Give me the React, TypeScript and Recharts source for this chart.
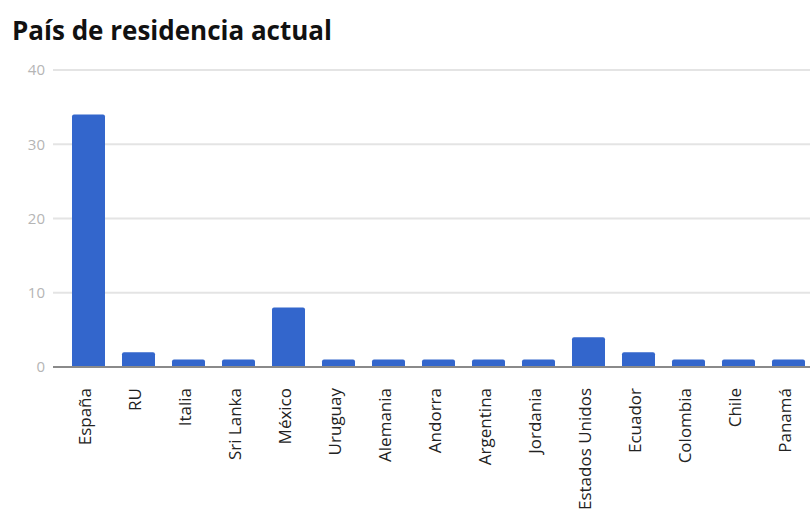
import React from 'react';
import { BarChart, Bar, XAxis, YAxis, CartesianGrid } from 'recharts';

const paises = [
  'España',
  'RU',
  'Italia',
  'Sri Lanka',
  'México',
  'Uruguay',
  'Alemania',
  'Andorra',
  'Argentina',
  'Jordania',
  'Estados Unidos',
  'Ecuador',
  'Colombia',
  'Chile',
  'Panamá',
];
const personas = [34, 2, 1, 1, 8, 1, 1, 1, 1, 1, 4, 2, 1, 1, 1];
const yTicks = [0, 10, 20, 30, 40];

const data = paises.map((pais, i) => ({ pais, personas: personas[i] }));

const FONT = '"Open Sans", "Noto Sans", sans-serif';

function PaisTick({ x, y, payload }: any) {
  return (
    <text
      x={x}
      y={y + 13}
      dy={3}
      transform={`rotate(-90, ${x}, ${y + 13})`}
      textAnchor="end"
      fontFamily={FONT}
      fontSize={17}
      fill="#222"
    >
      {payload.value}
    </text>
  );
}

export default function App() {
  return (
    <div
      style={{
        position: 'absolute',
        left: 0,
        top: 0,
        width: 810,
        height: 509,
        overflow: 'hidden',
        background: '#fff',
      }}
    >
      <div
        style={{
          position: 'absolute',
          left: 12,
          top: 12,
          fontFamily: FONT,
          fontWeight: 700,
          fontSize: 26,
          color: '#111',
          whiteSpace: 'nowrap',
        }}
      >
        País de residencia actual
      </div>
      <BarChart
        width={820}
        height={509}
        data={data}
        margin={{ top: 70, right: 0, bottom: 0, left: 0 }}
        barSize={33}
      >
        <CartesianGrid vertical={false} stroke="#e4e4e4" strokeWidth={2} />
        <XAxis
          dataKey="pais"
          interval={0}
          height={142}
          padding={{ left: 10, right: 7 }}
          tickLine={false}
          axisLine={{ stroke: '#8a8a8a', strokeWidth: 2 }}
          tick={<PaisTick />}
        />
        <YAxis
          width={53}
          domain={[0, 40]}
          ticks={yTicks}
          tickLine={false}
          axisLine={false}
          tick={{ fontSize: 15, fill: '#b5b5b5', fontFamily: FONT }}
        />
        <Bar
          dataKey="personas"
          fill="#3366cc"
          radius={[2, 2, 0, 0]}
          isAnimationActive={false}
        />
      </BarChart>
    </div>
  );
}
